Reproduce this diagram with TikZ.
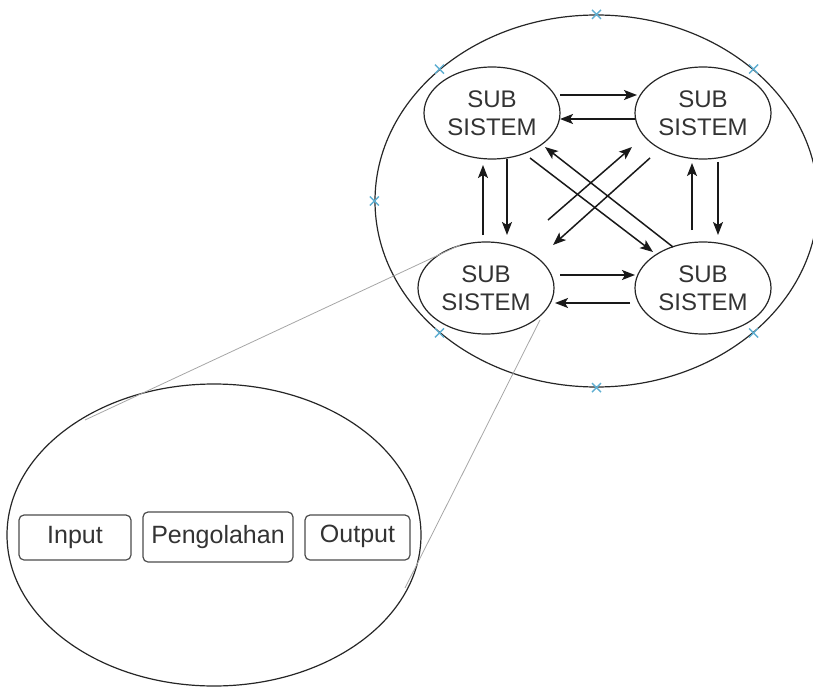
\documentclass[tikz,border=0pt]{standalone}
\usepackage{fontspec}
\setmainfont{Liberation Sans}
\usetikzlibrary{shapes.geometric,arrows.meta}
\definecolor{xblue}{RGB}{95,175,210}
\begin{document}
\begin{tikzpicture}[x=1pt,y=-1pt,
  sub/.style={ellipse,draw=black!85,line width=1.2pt,minimum width=136pt,minimum height=92pt,inner sep=0pt,align=center,text=black!80,font=\fontsize{24}{28}\selectfont},
  arr/.style={line width=1.5pt,draw=black!90,-{Stealth[length=13pt,width=10pt,inset=3pt]}},
  box/.style={draw=black!70,line width=1.2pt,rounded corners=5pt,text=black!80,font=\fontsize{25}{28}\selectfont,inner sep=0pt,text height=17pt,text depth=5pt},
  xm/.style={draw=xblue,line width=1.3pt},
  zoomln/.style={draw=black!35,line width=0.8pt}]
\useasboundingbox (0,0) rectangle (813,687);
% outer system
\node[ellipse,draw=black!85,line width=1.2pt,minimum width=443pt,minimum height=372pt] (big) at (596.5,201) {};
% zoomed subsystem
\node[ellipse,draw=black!85,line width=1.2pt,minimum width=414pt,minimum height=302pt] (low) at (214,535) {};
% subsystems
\node[sub] (tl) at (492,113) {SUB\\SISTEM};
\node[sub] (tr) at (703,113) {SUB\\SISTEM};
\node[sub] (bl) at (486,288) {SUB\\SISTEM};
\node[sub] (br) at (703,288) {SUB\\SISTEM};
% horizontal arrows
\draw[arr] ([shift={(68,-18)}]tl.center) -- ([shift={(-66,-18)}]tr.center);
\draw[arr] ([shift={(-68,6)}]tr.center) -- ([shift={(68,6)}]tl.center);
\draw[arr] ([shift={(74,-13)}]bl.center) -- ([shift={(-68,-13)}]br.center);
\draw[arr] ([shift={(-73,15)}]br.center) -- ([shift={(69,15)}]bl.center);
% vertical arrows
\draw[arr] ([shift={(15,46)}]tl.center) -- ([shift={(21,-53)}]bl.center);
\draw[arr] ([shift={(-3,-53)}]bl.center) -- ([shift={(-9,52)}]tl.center);
\draw[arr] ([shift={(15,49)}]tr.center) -- ([shift={(15,-53)}]br.center);
\draw[arr] ([shift={(-11,-58)}]br.center) -- ([shift={(-11,50)}]tr.center);
% diagonal arrows
\draw[arr] ([shift={(38,45)}]tl.center) -- ([shift={(-50,-36)}]br.center);
\draw[arr] ([shift={(-30,-41)}]br.center) -- ([shift={(53,34)}]tl.center);
\draw[arr] ([shift={(62,-68)}]bl.center) -- ([shift={(-71,34)}]tr.center);
\draw[arr] ([shift={(-53,45)}]tr.center) -- ([shift={(67,-43)}]bl.center);
% zoom lines
\draw[zoomln] ([shift={(-26,-43)}]bl.center) -- ([shift={(-129,-115)}]low.center);
\draw[zoomln] ([shift={(54,32)}]bl.center) -- ([shift={(191,53)}]low.center);
% boxes
\node[box,minimum width=112pt,minimum height=45pt] (in) at (75,537.5) {Input};
\node[box,minimum width=150pt,minimum height=50pt] (proc) at (218,537) {Pengolahan};
\node[box,minimum width=105pt,minimum height=45pt] (out) at (357.5,537.5) {\raisebox{1.5pt}{Output}};
% connection markers
\foreach \a in {north,south,east,west,north east,north west,south east,south west}
  \draw[xm] (big.\a) +(-4.5,-4.5) -- +(4.5,4.5) (big.\a) +(-4.5,4.5) -- +(4.5,-4.5);
\end{tikzpicture}
\end{document}
